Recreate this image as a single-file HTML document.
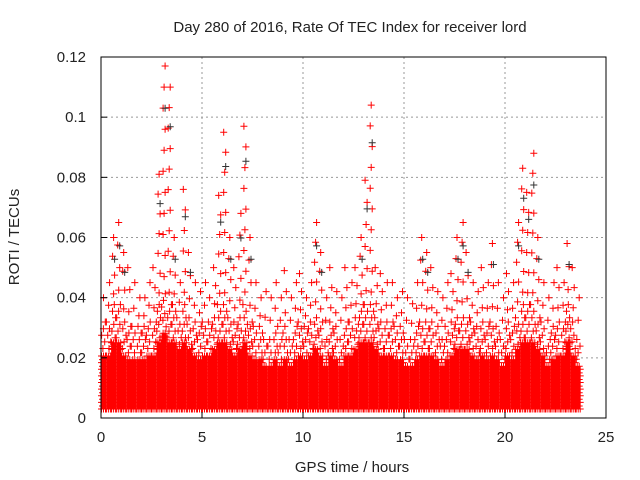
<!DOCTYPE html>
<html><head><meta charset="utf-8"><style>
body{margin:0;background:#fff}
svg{display:block;font-family:"Liberation Sans",sans-serif}
</style></head><body>
<svg id="chart" width="640" height="480">
<rect width="640" height="480" fill="#fff"/>
<text x="350" y="32" font-size="15" text-anchor="middle" fill="#222">Day 280 of 2016, Rate Of TEC Index for receiver lord</text>
<g id="grid"></g>
<g id="marks"></g>
<rect x="101" y="57" width="505" height="361" fill="none" stroke="#000" stroke-width="1"/>
<g id="axes"></g>
<text x="352" y="472" font-size="15" text-anchor="middle" fill="#222">GPS time / hours</text>
<text transform="translate(19,237) rotate(-90)" font-size="15" text-anchor="middle" fill="#222">ROTI / TECUs</text>
</svg>
<script>
const xTicks=[0,5,10,15,20,25];
const yTicks=[0,0.02,0.04,0.06,0.08,0.1,0.12];
const yTickLabels=["0","0.02","0.04","0.06","0.08","0.1","0.12"];
const binStart=0, binWidth=0.25;
const binMax=[0.04,0.045,0.06,0.065, 0.055,0.05,0.045,0.04, 0.04,0.045,0.05,0.081, 0.117,0.11,0.06,0.045,
0.076,0.055,0.045,0.042, 0.045,0.04,0.05,0.074, 0.095,0.06,0.05,0.068, 0.097,0.06,0.045,0.04,
0.042,0.04,0.045,0.04, 0.049,0.04,0.045,0.048, 0.04,0.045,0.065,0.055, 0.04,0.05,0.042,0.04,
0.05,0.045,0.05,0.06, 0.079,0.104,0.05,0.048, 0.045,0.045,0.04,0.042, 0.04,0.038,0.045,0.06,
0.055,0.05,0.042,0.04, 0.045,0.048,0.06,0.065, 0.055,0.045,0.042,0.05, 0.045,0.058,0.045,0.04,
0.048,0.045,0.065,0.083, 0.075,0.088,0.06,0.045, 0.04,0.045,0.05,0.045, 0.058,0.05,0.04];
const binDense=[0.03,0.03,0.035,0.035, 0.03,0.028,0.028,0.028, 0.028,0.03,0.03,0.035, 0.04,0.035,0.035,0.032,
0.035,0.032,0.03,0.028, 0.03,0.03,0.032,0.035, 0.035,0.032,0.03,0.032, 0.035,0.03,0.028,0.028,
0.025,0.025,0.028,0.025, 0.028,0.025,0.028,0.03, 0.028,0.03,0.032,0.03, 0.025,0.03,0.028,0.025,
0.03,0.03,0.032,0.035, 0.035,0.035,0.032,0.03, 0.03,0.03,0.028,0.028, 0.025,0.025,0.028,0.03,
0.03,0.03,0.028,0.025, 0.028,0.03,0.032,0.032, 0.032,0.03,0.028,0.03, 0.028,0.03,0.028,0.025,
0.03,0.028,0.032,0.035, 0.035,0.035,0.032,0.03, 0.025,0.028,0.03,0.03, 0.035,0.03,0.025];
const X=v=>101+v*(505/25), Y=v=>418-v*(361/0.12);
const ns="http://www.w3.org/2000/svg";
const grid=document.getElementById('grid'),axes=document.getElementById('axes'),marks=document.getElementById('marks');
function mk(tag,attrs,parent){const e=document.createElementNS(ns,tag);for(const k in attrs)e.setAttribute(k,attrs[k]);parent.appendChild(e);return e;}
xTicks.forEach(t=>{
 if(t>0&&t<25){const g=mk('line',{x1:X(t),x2:X(t),y1:57,y2:418,stroke:'#999','stroke-dasharray':'2,3'},grid);
 
 }
 mk('line',{x1:X(t),x2:X(t),y1:418,y2:412,stroke:'#000'},axes);
 const l=mk('text',{x:X(t),y:442,'font-size':15,'text-anchor':'middle',fill:'#222'},axes);l.textContent=t;
 
 
});
yTicks.forEach((t,i)=>{
 if(i>0&&i<yTicks.length-1){const g=mk('line',{x1:101,x2:606,y1:Y(t),y2:Y(t),stroke:'#999','stroke-dasharray':'2,3'},grid);
 
 }
 mk('line',{x1:101,x2:107,y1:Y(t),y2:Y(t),stroke:'#000'},axes);
 const l=mk('text',{x:86,y:Y(t)+5,'font-size':15,'text-anchor':'end',fill:'#222'},axes);l.textContent=yTickLabels[i];
 
 
});
let red='',blk='';
const plus=(x,y)=>`M${(x-3.5).toFixed(1)} ${y.toFixed(1)}h7M${x.toFixed(1)} ${(y-3.5).toFixed(1)}v7`;
binMax.forEach((mx,i)=>{
 const t0=binStart+i*binWidth, d=binDense[i], solid=d*0.72;
 for(let s=0;s<5;s++){
  const t=t0+binWidth*(s+0.5)/5;
  for(let v=0.003+(s%2)*0.001;v<=solid;v+=0.0022) red+=plus(X(t),Y(v));
 }
 let k=0;
 for(let v=solid+0.0015;v<=d+0.003;v+=0.0022){k++;red+=plus(X(t0+binWidth*((k*0.37+i*0.21)%1)),Y(v));}
 const tc=t0+binWidth*0.5, n=Math.max(1,Math.round((mx-d)/0.007));
 for(let k2=1;k2<=n;k2++){const v=d+(mx-d)*k2/n;red+=plus(X(tc+((k2%3)-1)*0.05),Y(v));}
 if(mx>0.05) blk+=plus(X(tc+0.05),Y(mx*0.88));
});
const pr=mk('path',{d:red,stroke:'#f00','stroke-width':1,fill:'none'},marks);


const pb=mk('path',{d:blk,stroke:'#333','stroke-width':1,fill:'none'},marks);


</script>
</body></html>
